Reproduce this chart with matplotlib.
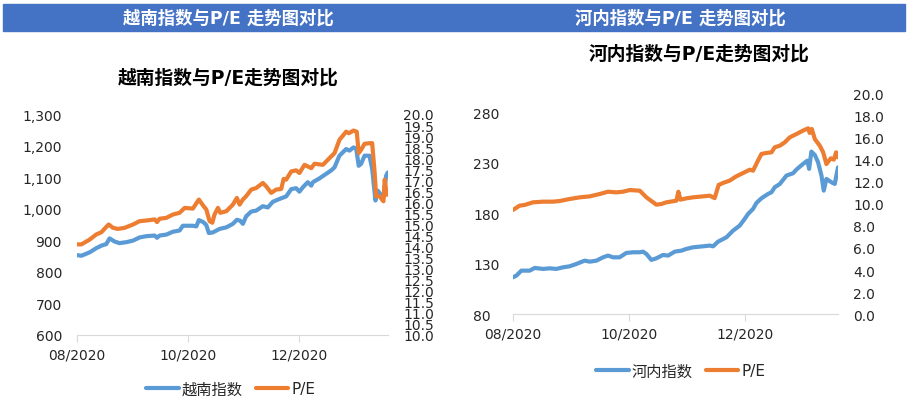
import matplotlib
matplotlib.use("Agg")
import matplotlib.pyplot as plt
from matplotlib.patches import Rectangle

plt.rcParams['font.family'] = ['DejaVu Sans', 'Noto Sans CJK SC']

# x values are days counted from 2020-08-01
tick_days = [0, 61, 122]
tick_labels = ["08/2020", "10/2020", "12/2020"]

# Vietnam (VN) index and its P/E
vn_days = [0, 2.4, 7.0, 10.6, 13.4, 16.1, 17.9, 20.7, 23.4, 27.1, 30.8, 34.4, 38.1, 42.7, 44.0,
           45.4, 49.1, 52.7, 56.4, 58.2, 63.7, 65.6, 67.0, 69.6, 71.1, 72.5, 74.7, 78.4, 82.1,
           85.7, 87.9, 89.7, 91.2, 93.0, 95.8, 98.5, 102.2, 104.9, 107.7, 111.4, 115.0, 117.8,
           120.5, 122.3, 124.2, 126.9, 128.8, 129.7, 133.3, 136.1, 139.7, 141.6, 144.3, 148.0,
           149.8, 152.0, 153.5, 154.9, 156.2, 158.1, 160.8, 162.3, 164.1, 165.4, 167.2, 168.5,
           170.0, 170.9]
vn_index = [853, 851, 862, 875, 883, 888, 906, 896, 891, 894, 899, 909, 913, 915, 908,
            915, 918, 927, 931, 946, 946, 944, 964, 957, 948, 923, 925, 936, 941,
            952, 965, 962, 952, 976, 991, 994, 1008, 1004, 1022, 1031, 1039, 1062,
            1065, 1054, 1068, 1084, 1073, 1084, 1096, 1107, 1121, 1131, 1168, 1189,
            1184, 1194, 1191, 1136, 1142, 1168, 1168, 1126, 1026, 1057, 1043, 1036,
            1105, 1115]

vn_pe_days = [0, 2.4, 7.0, 10.6, 13.4, 16.1, 17.4, 19.8, 22.5, 26.2, 30.8, 34.4, 38.1, 42.7,
              44.0, 45.4, 49.1, 52.7, 56.4, 59.2, 63.7, 67.0, 69.6, 71.1, 72.9, 74.4, 75.6,
              77.5, 78.8, 82.1, 85.7, 87.9, 89.4, 91.2, 93.0, 95.8, 98.5, 102.2, 104.0, 106.8,
              109.5, 112.3, 113.6, 115.0, 117.8, 120.5, 122.3, 125.1, 128.8, 130.6, 135.2,
              138.8, 141.6, 144.3, 148.0, 149.5, 152.0, 153.8, 154.9, 156.2, 158.1, 160.8,
              162.3, 163.6, 164.5, 166.3, 168.5, 169.2, 170.3, 170.9]
vn_pe = [14.10, 14.10, 14.32, 14.55, 14.65, 14.89, 15.00, 14.85, 14.80, 14.85, 15.00, 15.15,
         15.18, 15.23, 15.11, 15.26, 15.30, 15.45, 15.53, 15.75, 15.72, 16.13, 15.83, 15.68,
         15.15, 15.08, 15.45, 15.75, 15.53, 15.60, 15.90, 16.20, 15.90, 16.13, 16.28, 16.58,
         16.65, 16.88, 16.73, 16.43, 16.58, 16.61, 17.06, 17.03, 17.40, 17.45, 17.33, 17.70,
         17.55, 17.75, 17.70, 18.00, 18.23, 18.83, 19.20, 19.13, 19.25, 19.20, 18.23, 18.38,
         18.65, 18.68, 18.68, 17.40, 16.28, 16.28, 16.05, 17.03, 16.35, 16.35]

# Hanoi (HNX) index and its P/E
hn_days = [0, 1.8, 4.4, 8.8, 11.4, 15.8, 19.3, 22.8, 26.3, 29.8, 33.3, 37.7, 40.4, 43.9, 47.4,
           50.0, 52.6, 56.1, 59.6, 63.2, 66.7, 68.4, 70.2, 72.8, 75.4, 78.9, 81.6, 85.1, 88.6,
           91.2, 94.7, 100.0, 103.5, 105.3, 107.9, 112.3, 115.8, 119.3, 121.9, 123.7, 126.3,
           128.1, 130.7, 134.2, 136.0, 137.7, 140.4, 143.9, 147.4, 149.1, 152.6, 154.9, 155.8,
           157.0, 158.8, 160.5, 162.3, 163.5, 164.9, 167.5, 169.3, 171.0]
hn_index = [116.6, 118.3, 123.2, 123.2, 125.9, 124.9, 125.5, 124.9, 126.5, 127.5, 129.8, 133.1,
            132.1, 133.1, 136.4, 138.1, 136.4, 136.4, 140.7, 141.4, 141.4, 142.0, 139.7, 133.8,
            135.4, 138.7, 138.1, 142.0, 143.0, 144.7, 146.3, 147.3, 148.0, 147.3, 151.9, 156.2,
            162.8, 167.8, 174.4, 179.3, 184.3, 190.2, 194.8, 199.1, 200.8, 205.7, 209.0, 217.3,
            219.6, 223.2, 228.8, 232.1, 223.9, 241.0, 237.7, 230.5, 217.3, 202.4, 214.0, 210.7,
            209.0, 225.5]

hn_pe_days = [0, 3.5, 6.1, 10.5, 15.8, 21.1, 24.6, 29.8, 35.1, 40.4, 45.6, 50.0, 54.4, 57.9,
              61.4, 66.7, 70.2, 75.4, 78.1, 80.7, 86.0, 87.0, 88.1, 91.2, 94.7, 100.0, 103.5,
              106.1, 108.2, 110.5, 114.0, 117.5, 121.1, 124.6, 126.3, 128.9, 130.7, 133.3, 136.0,
              137.7, 140.4, 143.0, 145.6, 149.1, 152.6, 155.3, 156.1, 157.2, 158.8, 161.4, 163.2,
              164.9, 167.2, 168.8, 170.0, 171.0]
hn_pe = [9.43, 9.82, 9.88, 10.12, 10.18, 10.18, 10.24, 10.42, 10.57, 10.66, 10.87, 11.08, 11.02,
         11.08, 11.23, 11.17, 10.57, 9.91, 9.97, 10.12, 10.27, 11.08, 10.36, 10.48, 10.57, 10.66,
         10.72, 10.50, 11.69, 11.87, 12.08, 12.47, 12.77, 13.07, 12.98, 13.89, 14.49, 14.58,
         14.64, 15.09, 15.24, 15.54, 15.99, 16.29, 16.60, 16.81, 16.39, 16.75, 15.84, 15.24,
         14.64, 13.58, 14.10, 13.98, 14.64, 14.19]

blue = "#5B9BD5"
orange = "#ED7D31"
W, H = 907, 402

fig = plt.figure(figsize=(W / 100, H / 100), dpi=100)

# header bar
fig.patches.append(Rectangle((3 / W, 1 - 32 / H), 902 / W, 27 / H,
                             transform=fig.transFigure, color="#4472C4", zorder=0))
fig.text(228 / W, 1 - 18.5 / H, "越南指数与P/E 走势图对比", color="white",
         fontsize=12.5, fontweight="bold", ha="center", va="center")
fig.text(680 / W, 1 - 18.5 / H, "河内指数与P/E 走势图对比", color="white",
         fontsize=12.5, fontweight="bold", ha="center", va="center")


def make_chart(rect, days, idx, pe_days, pe, name, ylim, yticks, yfmt, y2lim, y2ticks,
               title, title_xy, left_ha, left_pad, legend_xy):
    ax = fig.add_axes(rect)
    ax2 = ax.twinx()
    l1, = ax.plot(days, idx, color=blue, lw=3, solid_capstyle="round", label=name)
    l2, = ax2.plot(pe_days, pe, color=orange, lw=3, solid_capstyle="round", label="P/E")
    ax.set_xlim(0, 171)
    ax.set_ylim(*ylim)
    ax.set_yticks(yticks)
    ax.set_yticklabels([yfmt.format(v) for v in yticks], ha=left_ha)
    ax2.set_ylim(*y2lim)
    ax2.set_yticks(y2ticks)
    ax2.set_yticklabels(["{:.1f}".format(v) for v in y2ticks])
    ax.set_xticks(tick_days)
    ax.set_xticklabels(tick_labels)
    for a in (ax, ax2):
        for s in ("top", "left", "right"):
            a.spines[s].set_visible(False)
        a.spines["bottom"].set_color("#D9D9D9")
    ax2.spines["bottom"].set_visible(False)
    ax.tick_params(axis="x", length=5, color="#D9D9D9", labelsize=10, pad=4, labelcolor="#262626")
    ax.tick_params(axis="y", length=0, labelsize=10, pad=left_pad, labelcolor="#262626")
    ax2.tick_params(axis="y", length=0, labelsize=10, pad=10.8, labelcolor="#262626")
    fig.text(title_xy[0] / W, 1 - title_xy[1] / H, title, fontsize=13.5,
             fontweight="bold", ha="center", va="center")
    fig.legend([l1, l2], [name, "P/E"], loc="center",
               bbox_to_anchor=(legend_xy[0] / W, 1 - legend_xy[1] / H), ncol=2,
               frameon=False, fontsize=11, handlelength=2.1, handletextpad=0.2,
               columnspacing=0.9, labelcolor="#262626")
    return ax


make_chart([77 / W, 1 - 336 / H, 311 / W, 221 / H], vn_days, vn_index, vn_pe_days, vn_pe,
           "越南指数", (600, 1300), list(range(600, 1301, 100)), "{:,.0f}",
           (10, 20), [10 + 0.5 * i for i in range(21)],
           "越南指数与P/E走势图对比", (228, 78), "right", 10.8, (231, 390))

make_chart([513 / W, 1 - 315.3 / H, 325 / W, 221.3 / H], hn_days, hn_index, hn_pe_days, hn_pe,
           "河内指数", (80, 299), list(range(80, 281, 50)), "{:.0f}",
           (0, 20), [2.0 * i for i in range(11)],
           "河内指数与P/E走势图对比", (699, 54), "left", 28.8, (681, 372))

fig.savefig("out.png", dpi=100)
